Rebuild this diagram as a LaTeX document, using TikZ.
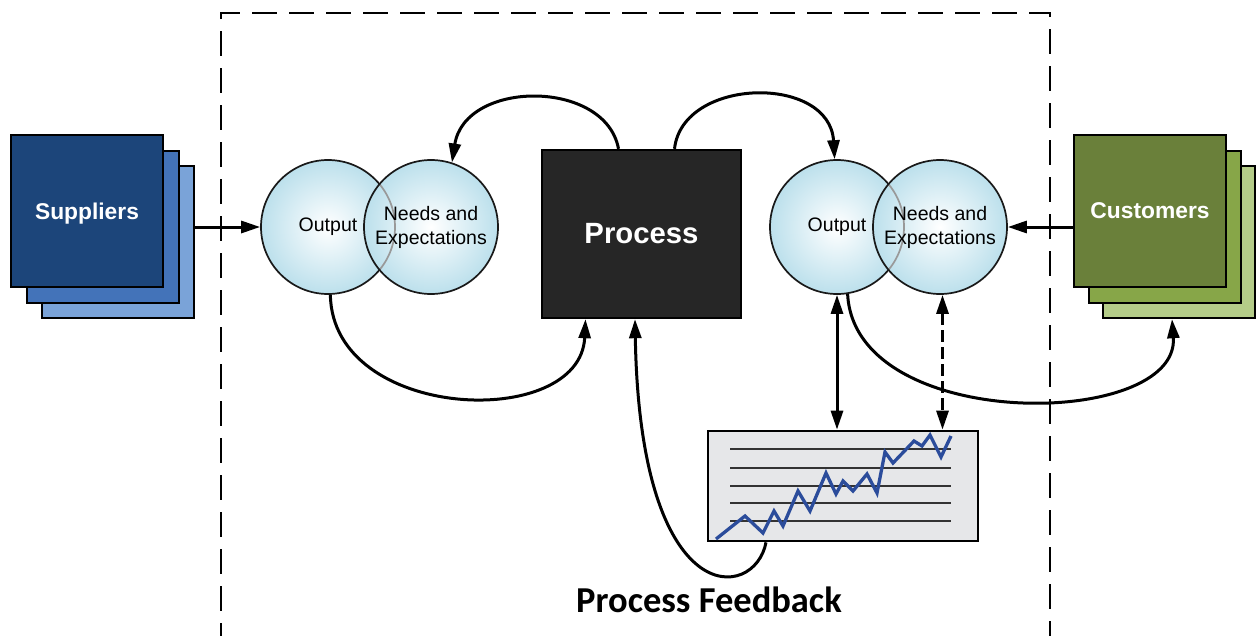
\documentclass[tikz,border=0pt]{standalone}
\usepackage{fontspec}
\setmainfont{Liberation Sans}
\newfontfamily\fbfont{Carlito}
\usetikzlibrary{arrows.meta,calc}

\definecolor{supA}{RGB}{28,69,122}
\definecolor{supB}{RGB}{67,115,185}
\definecolor{supC}{RGB}{122,163,216}
\definecolor{cusA}{RGB}{106,128,58}
\definecolor{cusB}{RGB}{135,166,72}
\definecolor{cusC}{RGB}{180,204,136}
\definecolor{procFill}{RGB}{38,38,38}
\definecolor{bubbleEdge}{RGB}{188,224,236}
\definecolor{chartFill}{RGB}{230,231,233}
\definecolor{trendBlue}{RGB}{43,76,155}

\begin{document}
\begin{tikzpicture}[x=1pt,y=-1pt,
  conn/.style={line width=3pt, -{Triangle[length=19pt,width=12pt]}},
  dblarrow/.style={line width=3pt,
    {Triangle[length=19pt,width=12pt]}-{Triangle[length=19pt,width=12pt]}},
  sheet/.style={draw=black, line width=2.4pt, minimum width=152pt,
    minimum height=152pt, inner sep=0pt},
  stacktext/.style={text=white, text depth=0pt,
    font=\bfseries\fontsize{22.8}{26}\selectfont},
  bubble/.style={circle, draw=black!90, line width=1.7pt, minimum size=134pt,
    inner sep=0pt, inner color=white, outer color=bubbleEdge, align=center,
    font=\fontsize{19.5}{24}\selectfont},
  seen through/.style={path picture={
    \draw[black!40, line width=1.7pt] (#1.center) circle[radius=67pt];}},
  boundary/.style={line width=2.7pt, dash pattern=on 25pt off 12pt}
]
\useasboundingbox (0,0) rectangle (1257,635);

% dashed system boundary
\draw[boundary] (221,19) -- (221,13) -- (1050,13) -- (1050,640);
\draw[boundary, dash phase=25pt] (221,19) -- (221,640);

% supplier stack
\node[sheet, fill=supC] (sup3) at (118,242) {};
\node[sheet, fill=supB] (sup2) at (103,227) {};
\node[sheet, fill=supA, stacktext] (sup1) at (87,211) {Suppliers};

% customer stack
\node[sheet, fill=cusC] (cus3) at (1179,242) {};
\node[sheet, fill=cusB] (cus2) at (1165,227) {};
\node[sheet, fill=cusA, stacktext] (cus1) at (1150,211) {Customers};

% input side
\node[bubble] (outL) at (328,227) {Output};
\node[bubble, seen through=outL] (needL) at (431,227) {Needs and\\Expectations};

% process
\node[draw=black, line width=2.4pt, fill=procFill, minimum width=199pt,
  minimum height=168pt, text=white,
  font=\bfseries\fontsize{29.3}{34}\selectfont] (proc) at (641.5,234) {Process};

% output side
\node[bubble] (outR) at (837,227) {Output};
\node[bubble, seen through=outR] (needR) at (940,227) {Needs and\\Expectations};

% feedback chart
\node[draw=black, line width=2.7pt, fill=chartFill, minimum width=270pt,
  minimum height=110pt, inner sep=0pt] (chart) at (843,486) {};
\foreach \gy in {449,468,486,503,521}
  \draw[black!80, line width=1.6pt] (730,\gy) -- (951,\gy);
\draw[trendBlue, line width=3.3pt]
  (716,539) -- (745,516) -- (763,533) -- (774,511) -- (783,526) -- (798,491)
  -- (810,511) -- (826,473) -- (836,494) -- (843,481) -- (853,491) -- (867,474)
  -- (877,493) -- (885,452) -- (893,463) -- (914,441) -- (922,446) -- (930,435)
  -- (941,457) -- (951,436);

% connectors
\draw[conn] (sup3.east |- outL.west) -- (outL.west);
\draw[conn] (cus1.west |- needR.east) -- (needR.east);
\draw[conn] ([xshift=-23pt]proc.north) .. controls +(-13,-70) and +(13,-83) .. (needL.72);
\draw[conn] ([xshift=33pt]proc.north) .. controls +(8,-72) and +(-5,-85) .. (outR.92);
\draw[conn] (outL.-88) .. controls +(2,127) and +(-5,112) .. ([xshift=-56pt]proc.south);
\draw[conn] ([xshift=-77pt]chart.south) .. controls +(-11,59) and +(5,295) .. ([xshift=-6.5pt]proc.south);
\draw[conn] (outR.-81) .. controls +(7,140) and +(8,110) .. ([xshift=-7pt]cus3.south);
\draw[dblarrow] (outR.south) -- (outR.south |- chart.north);
\draw[dblarrow, dash pattern=on 12pt off 5pt]
  ([xshift=2.5pt]needR.south) -- ([xshift=2.5pt]needR.south |- chart.north);

\node[font=\fbfont\bfseries\fontsize{36.5}{40}\selectfont, anchor=base]
  (fb) at (709,612) {Process Feedback};
\end{tikzpicture}
\end{document}
